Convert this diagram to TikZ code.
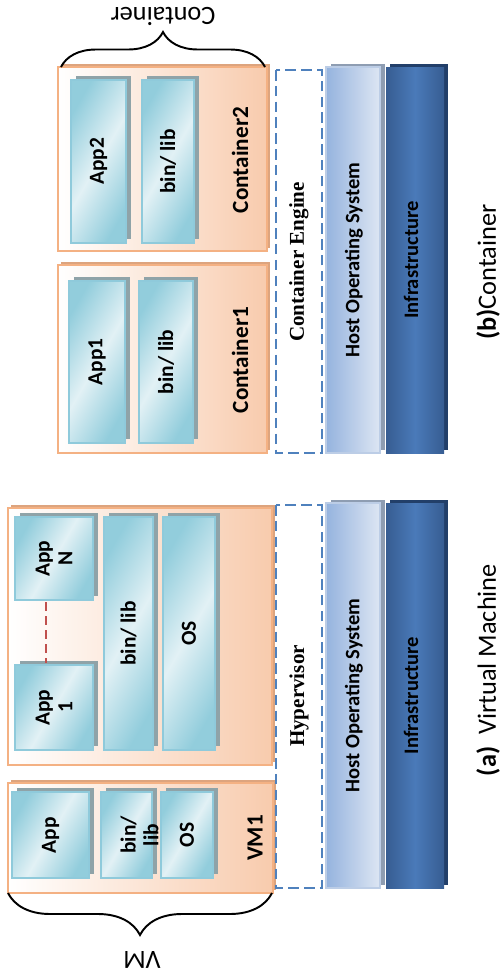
\documentclass[tikz,border=0pt]{standalone}
\usepackage{fontspec}
\setmainfont{Carlito}
\newfontfamily\serifbf{Liberation Serif}
\usetikzlibrary{decorations.pathreplacing}

\definecolor{peach}{HTML}{F8CBAD}
\definecolor{peachedge}{HTML}{F4B183}
\definecolor{peachshade}{HTML}{DDA47E}
\definecolor{tealdark}{HTML}{92CDDC}
\definecolor{teallight}{HTML}{E2F1F5}
\definecolor{tealedge}{HTML}{8FCADB}
\definecolor{tealshade}{HTML}{8FA3A8}
\definecolor{dashblue}{HTML}{4F81BD}
\definecolor{hostdark}{HTML}{95B3DE}
\definecolor{hostlight}{HTML}{DDE6F3}
\definecolor{hostedge}{HTML}{BCCDE6}
\definecolor{hostshade}{HTML}{8E9DB2}
\definecolor{infradark}{HTML}{375D92}
\definecolor{infralight}{HTML}{4A7AB9}
\definecolor{infrashade}{HTML}{223F69}
\definecolor{dashred}{HTML}{C0504D}

\begin{document}
\begin{tikzpicture}[x=0.02cm,y=-0.02cm,
    frame/.style={draw=peachedge, line width=1.3pt, left color=white, right color=peach},
    frameshadow/.style={fill=peachshade, shift={(3,-3)}},
    bluebox/.style={draw=tealedge, line width=1.2pt, left color=tealdark, right color=tealdark, middle color=teallight, shading angle=60},
    blueshadow/.style={fill=tealshade, shift={(5,-4)}},
    enginebox/.style={draw=dashblue, line width=1.6pt, dash pattern=on 6pt off 3pt, fill=white},
    hostbox/.style={draw=hostedge, line width=0.8pt, left color=hostdark, right color=hostlight},
    hostshadow/.style={fill=hostshade, shift={(5,-3)}},
    infrabox/.style={left color=infradark, right color=infradark, middle color=infralight},
    infrashadow/.style={fill=infrashade, shift={(4,-3)}},
    boxlabel/.style={rotate=90, align=center, font=\bfseries\fontsize{12.2}{13}\selectfont},
    layerlabel/.style={rotate=90, font=\bfseries\fontsize{11.7}{13}\selectfont},
    framelabel/.style={rotate=90, font=\bfseries\fontsize{13.2}{14}\selectfont},
    seriflabel/.style={rotate=90, font=\serifbf\bfseries\fontsize{12}{13}\selectfont},
    caption/.style={rotate=90, font=\fontsize{15}{17}\selectfont},
    bracelabel/.style={rotate=180, font=\fontsize{15}{17}\selectfont},
    curly/.style={decorate, decoration={brace, amplitude=#1}, line width=1.1pt}
  ]
  \useasboundingbox (0,0) rectangle (500,977);

  % (b) containers
  \fill[frameshadow] (58,67) rectangle (267,251);
  \path[frame] (58,67) rectangle (267,251);
  \node[framelabel] (cont2) at (240,160) {Container2};
  \fill[frameshadow] (58,265) rectangle (267,453);
  \path[frame] (58,265) rectangle (267,453);
  \node[framelabel] (cont1) at (240,360) {Container1};

  % (a) virtual machines
  \fill[frameshadow] (8,508) rectangle (272,765);
  \path[frame] (8,508) rectangle (272,765);
  \fill[frameshadow] (8,783) rectangle (273,893);
  \path[frame] (8,783) rectangle (273,893);
  \node[framelabel] (vm1) at (255,838) {VM1};

  \foreach \n/\xa/\ya/\xb/\yb/\dx/\t in {
      app2/71/80/126/243/0/App2, lib2/142/80/194/243/0/{bin/ lib},
      app1/69/281/125/443/0/App1, lib1/139/281/193/443/0/{bin/ lib},
      appN/15/517/93/600/0/{App\\N}, appOne/15/665/93/750/0/{App\\1},
      libB/104/517/153/750/0/{bin/ lib}, osB/163/517/215/750/0/OS,
      appA/12/792/89/878/0/App, libA/101/792/152/878/13/{bin/\\lib},
      osA/161/792/213/878/0/OS} {
    \fill[blueshadow] (\xa,\ya) rectangle (\xb,\yb);
    \path[bluebox] (\xa,\ya) rectangle (\xb,\yb);
    \node[boxlabel] (\n) at ({(\xa+\xb)/2+\dx},{(\ya+\yb)/2}) {\t};
  }
  \coordinate (dotsTop) at (46,602);
  \coordinate (dotsEnd) at (46,663);
  \draw[dashred, line width=1.6pt, dash pattern=on 5pt off 3pt] (dotsTop) -- (dotsEnd);

  % engine / hypervisor
  \path[enginebox] (276,70) rectangle (322,453);
  \node[seriflabel] (engine) at (299,262) {Container Engine};
  \path[enginebox] (276,505) rectangle (322,888);
  \node[seriflabel] (hyper) at (299,696) {Hypervisor};

  % host os and infrastructure
  \foreach \ya/\yb/\s in {67/453/b, 503/888/a} {
    \fill[hostshadow] (326,\ya) rectangle (380,\yb);
    \path[hostbox] (326,\ya) rectangle (380,\yb);
    \node[layerlabel] (host\s) at (354,{(\ya+\yb)/2}) {Host Operating System};
    \fill[infrashadow] (386,\ya) rectangle (444,\yb);
    \path[infrabox] (386,\ya) rectangle (444,\yb);
    \node[layerlabel] (infra\s) at (411,{(\ya+\yb)/2}) {Infrastructure};
  }

  % braces and captions
  \draw[curly=0.7cm] (61,67) -- (265,67);
  \node[bracelabel] (contbrace) at (163,16) {Container};
  \draw[curly=0.84cm] (272,893) -- (8,893);
  \node[bracelabel] (vmbrace) at (142,960) {VM};
  \node[caption] (capb) at (488,272) {\textbf{(b)}Container};
  \node[caption] (capa) at (488,670) {\textbf{(a)}\ \ Virtual Machine};
\end{tikzpicture}
\end{document}
